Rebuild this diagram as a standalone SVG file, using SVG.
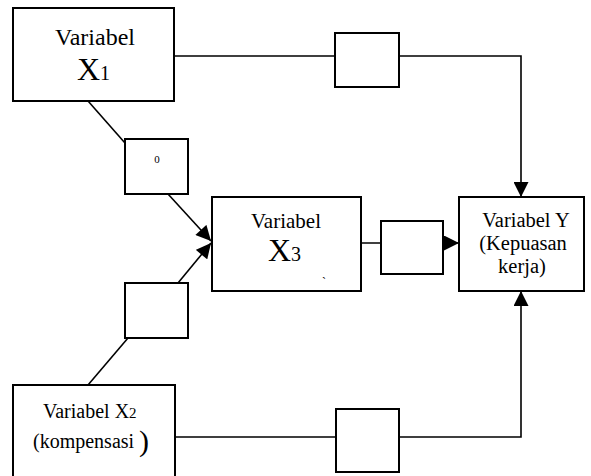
<svg xmlns="http://www.w3.org/2000/svg" width="591" height="476" viewBox="0 0 591 476">
<style>
.box{fill:#fff;stroke:#000;stroke-width:2}
.ln{fill:none;stroke:#000;stroke-width:1.6}
text{font-family:"Liberation Serif","Times New Roman",serif;fill:#000}
</style>
<defs>
<marker id="ah" viewBox="0 0 10 10" refX="10" refY="5" markerWidth="16" markerHeight="15" markerUnits="userSpaceOnUse" orient="auto">
<path d="M0,0 L10,5 L0,10 Z" fill="#000"/>
</marker>
</defs>
<rect width="591" height="476" fill="#fff"/>
<g id="connectors">
<polyline class="ln" points="174,56 521,56 521,197" marker-end="url(#ah)"/>
<polyline class="ln" points="175,437 521,437 521,291" marker-end="url(#ah)"/>
<line class="ln" x1="361" y1="243" x2="459" y2="243" marker-end="url(#ah)"/>
<line class="ln" x1="88" y1="101" x2="125" y2="143"/>
<line class="ln" x1="168" y1="194" x2="211" y2="241" marker-end="url(#ah)"/>
<line class="ln" x1="88" y1="385" x2="128" y2="338"/>
<line class="ln" x1="178" y1="283" x2="211" y2="243" marker-end="url(#ah)"/>
</g>
<g id="x1">
<rect class="box" x="13" y="8" width="161" height="93"/>
<text x="95" y="45" font-size="24" text-anchor="middle">Variabel</text>
<text x="77" y="80" font-size="32">X<tspan font-size="20">1</tspan></text>
</g>
<g id="x2">
<rect class="box" x="13" y="385" width="162" height="100"/>
<text x="43" y="418" font-size="20">Variabel X<tspan font-size="15">2</tspan></text>
<text x="33" y="448" font-size="20">(kompensasi <tspan font-size="30" dy="3">)</tspan></text>
</g>
<g id="x3">
<rect class="box" x="212" y="197" width="149" height="94"/>
<text x="286" y="228" font-size="21" text-anchor="middle">Variabel</text>
<text x="268" y="261" font-size="32">X<tspan font-size="20">3</tspan></text>
<text x="322" y="286" font-size="12">`</text>
</g>
<g id="y">
<rect class="box" x="459" y="197" width="125" height="94"/>
<text x="526" y="227" font-size="20.5" text-anchor="middle">Variabel Y</text>
<text x="523" y="250" font-size="20.5" text-anchor="middle">(Kepuasan</text>
<text x="522" y="273" font-size="20.5" text-anchor="middle">kerja)</text>
</g>
<g id="b1">
<rect class="box" x="125" y="139" width="63" height="55"/>
<text x="157" y="163" font-size="11" text-anchor="middle">0</text>
</g>
<g id="b2">
<rect class="box" x="125" y="283" width="63" height="55"/>
</g>
<g id="b3">
<rect class="box" x="335" y="33" width="64" height="54"/>
</g>
<g id="b4">
<rect class="box" x="381" y="221" width="62" height="53"/>
</g>
<g id="b5">
<rect class="box" x="336" y="409" width="63" height="63"/>
</g>
</svg>
